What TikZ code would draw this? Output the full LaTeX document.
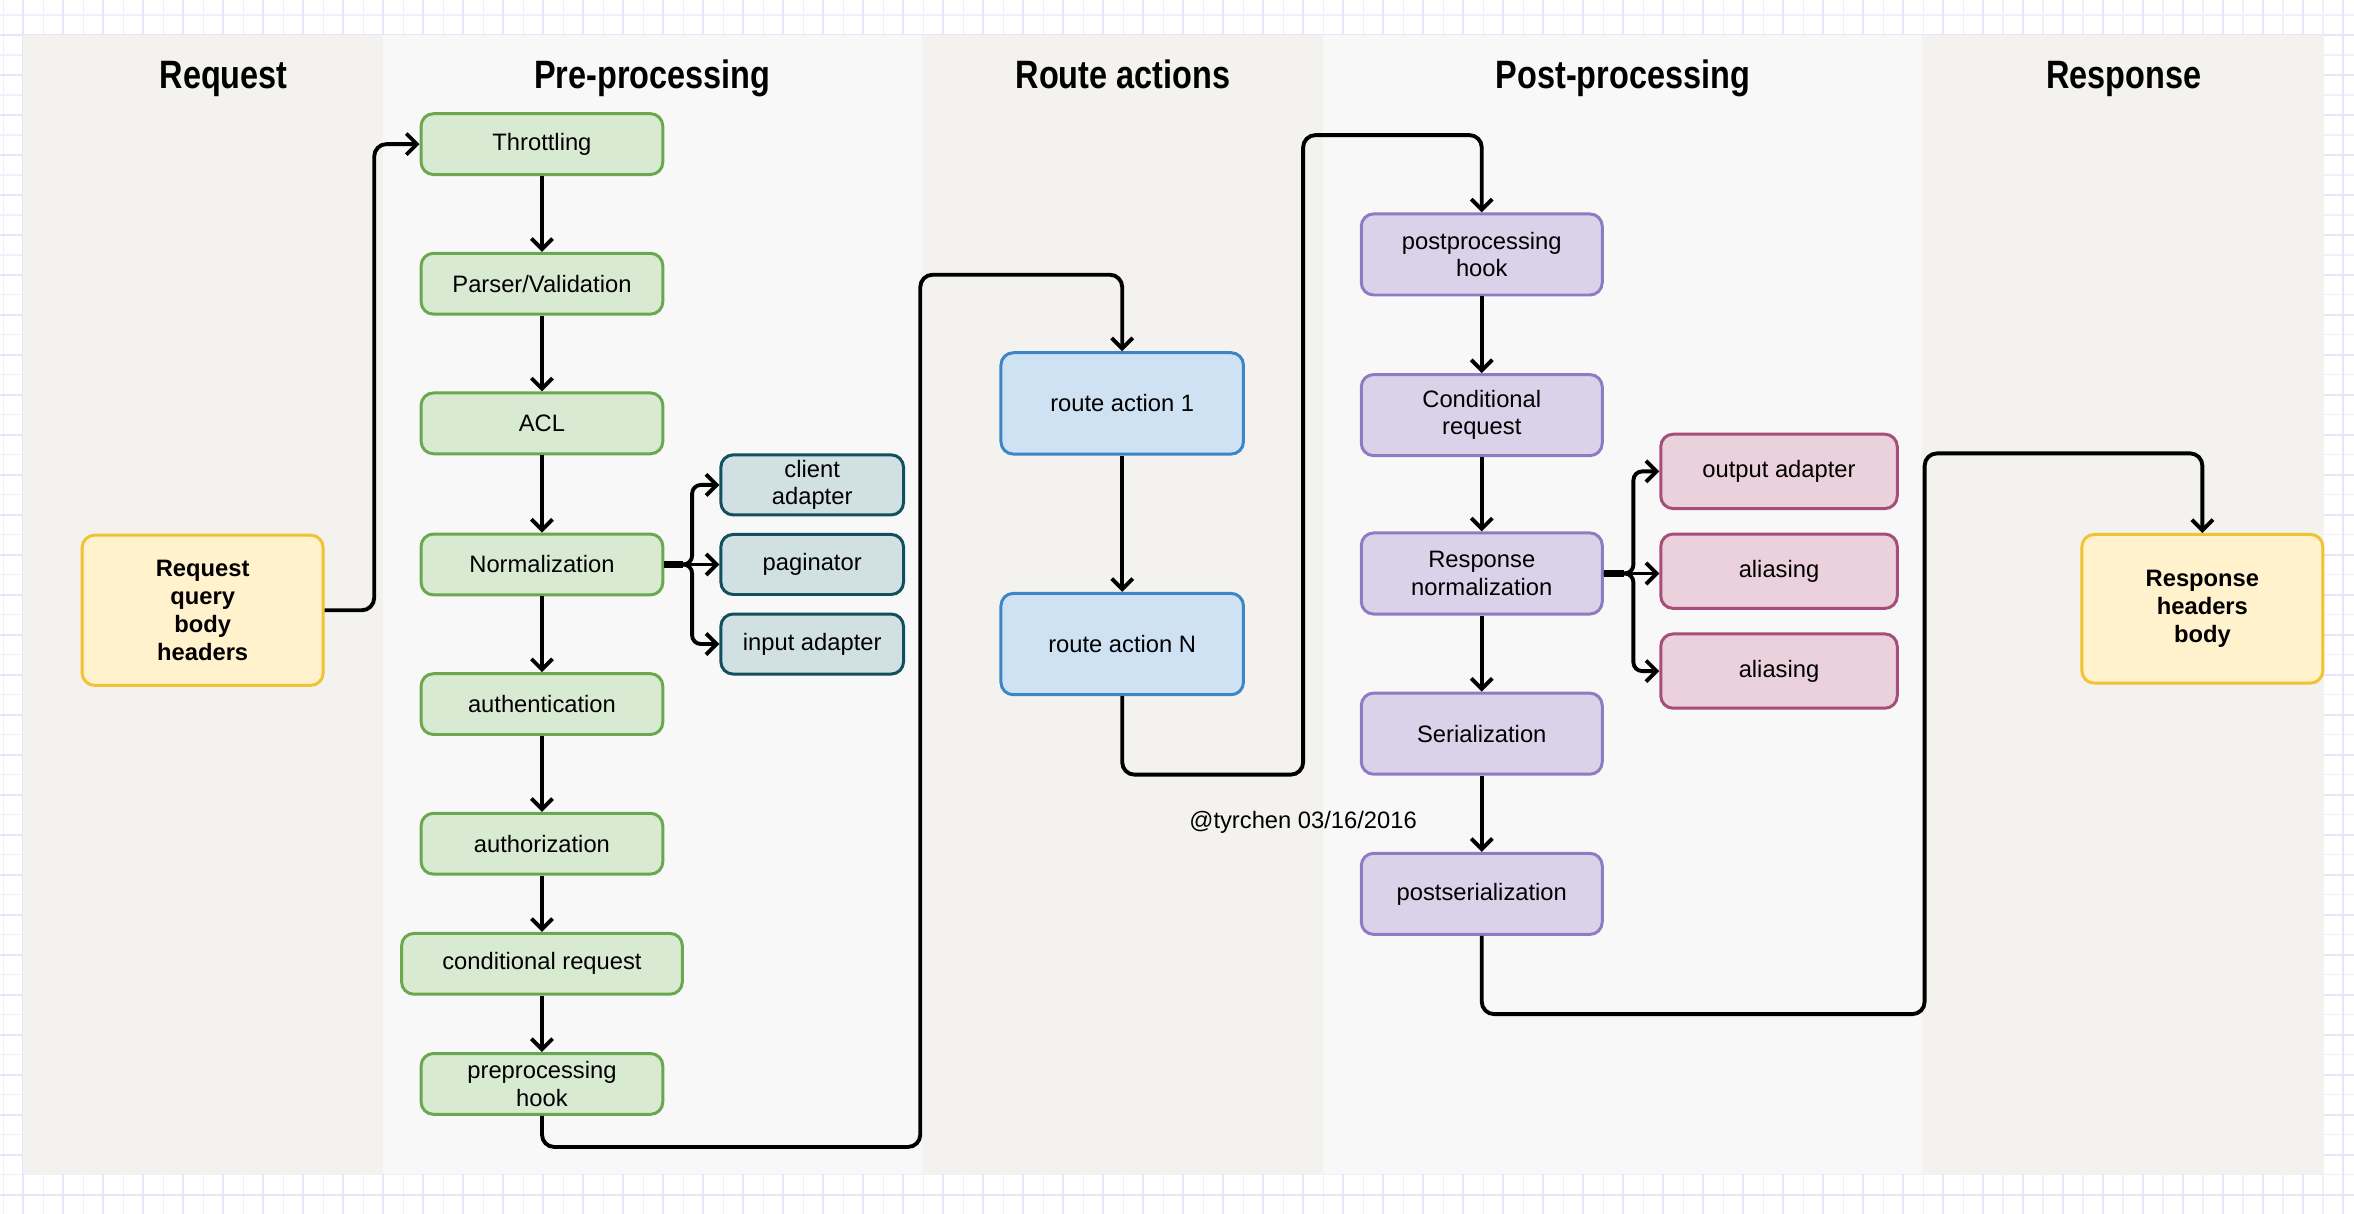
\documentclass[tikz,border=0pt]{standalone}
\usepackage{fontspec}
\setmainfont{Liberation Sans}
\newfontfamily\headfont[FakeStretch=0.82]{Liberation Sans}
\usepackage{tikz}
\usetikzlibrary{arrows.meta}
\definecolor{gridmin}{HTML}{F1EFFB}
\definecolor{gridmaj}{HTML}{E8E5FA}
\definecolor{lanedark}{HTML}{F3F2EE}
\definecolor{lanelight}{HTML}{F8F8F8}
\definecolor{prefill}{HTML}{D9EAD3}
\definecolor{predraw}{HTML}{6AA84F}
\definecolor{adpfill}{HTML}{D0E0E3}
\definecolor{adpdraw}{HTML}{134F5C}
\definecolor{routefill}{HTML}{CFE2F3}
\definecolor{routedraw}{HTML}{3D85C6}
\definecolor{postfill}{HTML}{D9D2E9}
\definecolor{postdraw}{HTML}{8E7CC3}
\definecolor{outfill}{HTML}{EAD1DC}
\definecolor{outdraw}{HTML}{A64D79}
\definecolor{iofill}{HTML}{FFF2CC}
\definecolor{iodraw}{HTML}{F1C232}

\begin{document}
\begin{tikzpicture}[x=0.3mm,y=-0.3mm,>={Straight Barb[length=6pt,width=12pt]}]
\tikzstyle{every node}=[font=\fontsize{13.5}{15.5}\selectfont]
\tikzstyle{hd}=[font=\headfont\bfseries\fontsize{22.5}{26}\selectfont,anchor=base]
\tikzstyle{box}=[rectangle,rounded corners=7pt,line width=1.7pt,inner sep=0pt,align=center]
\tikzstyle{pre}=[box,draw=predraw,fill=prefill,minimum width=48.3mm,minimum height=12.15mm]
\tikzstyle{adp}=[box,draw=adpdraw,fill=adpfill,minimum width=36.5mm,minimum height=12mm]
\tikzstyle{route}=[box,draw=routedraw,fill=routefill,minimum width=48.45mm,minimum height=20.25mm]
\tikzstyle{post}=[box,draw=postdraw,fill=postfill,minimum width=48.15mm,minimum height=16.2mm]
\tikzstyle{outp}=[box,draw=outdraw,fill=outfill,minimum width=47.25mm,minimum height=14.85mm]
\tikzstyle{io}=[box,draw=iodraw,fill=iofill,minimum width=48.15mm,minimum height=30mm,font=\bfseries\fontsize{13.5}{15.9}\selectfont]
\tikzstyle{flow}=[->,line width=2.2pt,rounded corners=7pt]
\useasboundingbox (0,0) rectangle (1568,808.6);
\fill[white] (0,0) rectangle (1568,808.6);
\foreach \i in {0,...,117} \draw[gridmin,line width=0.6pt] (2.2+13.32*\i,0) -- (2.2+13.32*\i,808.6);
\foreach \j in {0,...,59} \draw[gridmin,line width=0.6pt] (0,10+13.32*\j) -- (1568,10+13.32*\j);
\foreach \i in {0,...,58} \draw[gridmaj,line width=1.1pt] (15.52+26.64*\i,0) -- (15.52+26.64*\i,808.6);
\foreach \j in {0,...,29} \draw[gridmaj,line width=1.1pt] (0,23.32+26.64*\j) -- (1568,23.32+26.64*\j);

\fill[lanedark] (15,23) rectangle (255,782);
\fill[lanelight] (255,23) rectangle (614,782);
\fill[lanedark] (614,23) rectangle (881,782);
\fill[lanelight] (881,23) rectangle (1280,782);
\fill[lanedark] (1280,23) rectangle (1548,782);

\node[hd] (hreq) at (149,59) {Request};
\node[hd] (hpre) at (434.5,59) {Pre-processing};
\node[hd] (hroute) at (748,59) {Route actions};
\node[hd] (hpost) at (1081,59) {Post-processing};
\node[hd] (hresp) at (1414.5,59) {Response};

\node[io] (req) at (135,406.5) {Request\\query\\body\\headers};
\node[pre] (thr) at (361,96) {Throttling};
\node[pre] (parse) at (361,189) {Parser/Validation};
\node[pre] (acl) at (361,282) {ACL};
\node[pre] (norm) at (361,376) {Normalization};
\node[pre] (authn) at (361,469) {authentication};
\node[pre] (authz) at (361,562) {authorization};
\node[pre,minimum width=56.1mm] (creq) at (361,642) {conditional request};
\node[pre] (prehook) at (361,722) {preprocessing\\hook};
\node[adp] (cadp) at (541,323) {client\\adapter};
\node[adp] (pag) at (541,376) {paginator};
\node[adp] (iadp) at (541,429) {input adapter};
\node[route] (ra1) at (747.5,268.7) {route action 1};
\node[route] (raN) at (747.5,429) {route action N};
\node[post] (posthook) at (987,169.5) {postprocessing\\hook};
\node[post] (ccreq) at (987,276.5) {Conditional\\request};
\node[post] (rnorm) at (987,382) {Response\\normalization};
\node[post] (ser) at (987,488.7) {Serialization};
\node[post] (postser) at (987,595.4) {postserialization};
\node[outp] (oadp) at (1185,314) {output adapter};
\node[outp] (alias1) at (1185,380.5) {aliasing};
\node[outp] (alias2) at (1185,447) {aliasing};
\node[io,minimum height=29.7mm] (resp) at (1467,405.5) {Response\\headers\\body};
\node (sign) at (868,548) {@tyrchen 03/16/2016};

\coordinate (c1) at (613,764);
\coordinate (c2) at (613,183);
\coordinate (c3) at (868,516);
\coordinate (c4) at (868,90);
\coordinate (c5) at (1282,675.5);
\coordinate (c6) at (1282,302);
\coordinate (nstub) at (455,376);
\coordinate (nsplit) at (461,376);
\coordinate (rstub) at (1082,382);
\coordinate (rsplit) at (1088,382);

\draw[flow] (req.east) -- ++(33,0) |- (thr.west);
\draw[flow] (thr) -- (parse);
\draw[flow] (parse) -- (acl);
\draw[flow] (acl) -- (norm);
\draw[flow] (norm) -- (authn);
\draw[flow] (authn) -- (authz);
\draw[flow] (authz) -- (creq);
\draw[flow] (creq) -- (prehook);
\draw[line width=4pt] (norm.east) -- (nstub);
\draw[flow,rounded corners=5pt] (norm.east) -- (nsplit) |- (cadp.west);
\draw[flow] (norm.east) -- (pag.west);
\draw[flow,rounded corners=5pt] (norm.east) -- (nsplit) |- (iadp.west);
\draw[flow] (prehook.south) |- (c1) -- (c2) -| (ra1.north);
\draw[flow] (ra1) -- (raN);
\draw[flow] (raN.south) |- (c3) -- (c4) -| (posthook.north);
\draw[flow] (posthook) -- (ccreq);
\draw[flow] (ccreq) -- (rnorm);
\draw[flow] (rnorm) -- (ser);
\draw[flow] (ser) -- (postser);
\draw[line width=4pt] (rnorm.east) -- (rstub);
\draw[flow,rounded corners=5pt] (rnorm.east) -- (rsplit) |- (oadp.west);
\draw[flow] (rnorm.east) -- (rnorm.east -| alias1.west);
\draw[flow,rounded corners=5pt] (rnorm.east) -- (rsplit) |- (alias2.west);
\draw[flow] (postser.south) |- (c5) -- (c6) -| (resp.north);

\end{tikzpicture}
\end{document}
